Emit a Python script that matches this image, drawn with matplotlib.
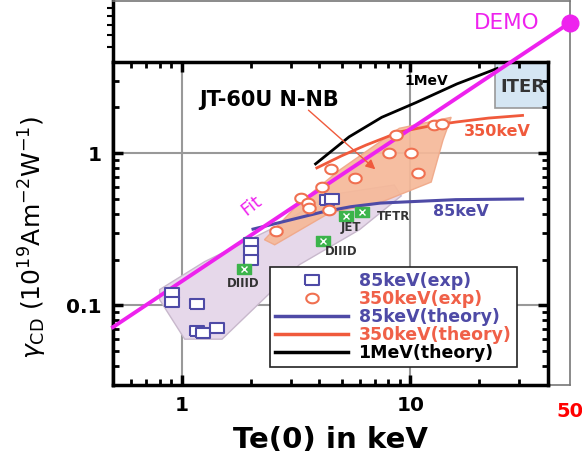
import numpy as np
import matplotlib.pyplot as plt
from matplotlib.lines import Line2D
from matplotlib.patches import Polygon, Rectangle, FancyArrowPatch
from matplotlib.ticker import FixedLocator, NullFormatter

# experimental points, Te(0) [keV] vs gamma_CD [1e19 A/m2/W]
te_85_exp = [0.91, 0.91, 1.16, 1.16, 1.24, 1.43, 2.01, 2.01, 2.01, 4.3, 4.55]
g_85_exp = [0.121, 0.106, 0.1015, 0.068, 0.066, 0.0715, 0.257, 0.226, 0.200, 0.49, 0.50]

te_350_exp = [2.59, 3.33, 3.56, 3.62, 4.09, 4.43, 4.50, 5.75, 8.09, 10.07, 8.66, 10.76, 12.7, 13.8]
g_350_exp = [0.306, 0.506, 0.469, 0.435, 0.600, 0.421, 0.783, 0.690, 0.995, 1.0, 1.31, 0.737, 1.52, 1.55]

# other tokamaks
te_other = [1.865, 4.14, 5.24, 6.15]
g_other = [0.173, 0.263, 0.389, 0.413]
other_names = ['DIIID', 'DIIID', 'JET', 'TFTR']

# theory curves
te_85_th = [2.05, 3.0, 4.1, 5.5, 7.4, 10, 15.8, 31]
g_85_th = [0.317, 0.365, 0.41, 0.445, 0.47, 0.48, 0.495, 0.50]
te_350_th = [3.9, 5.0, 6.4, 9.0, 12.5, 15.8, 22, 31]
g_350_th = [0.80, 0.96, 1.13, 1.38, 1.52, 1.60, 1.70, 1.77]
te_1mev_th = [3.85, 5.4, 7.5, 10.6, 16, 24]
g_1mev_th = [0.85, 1.28, 1.72, 2.15, 2.85, 3.6]

# fit line and DEMO point
fit_te = [0.5, 50]
fit_g = [0.072, 7.2]
demo_te, demo_g = 50, 7.2

# shaded regions
purple_te = [0.80, 1.03, 1.50, 3.27, 5.99, 9.13, 8.51, 4.43, 2.68, 1.26, 0.80]
purple_g = [0.109, 0.060, 0.060, 0.185, 0.314, 0.524, 0.618, 0.532, 0.338, 0.194, 0.127]
orange_te = [2.30, 3.27, 4.90, 8.95, 15.1, 13.9, 12.35, 7.32, 4.43, 2.55]
orange_g = [0.27, 0.471, 0.774, 1.456, 1.72, 1.216, 0.646, 0.471, 0.405, 0.25]

# ITER box corners
iter_te = [23.5, 40]
iter_g = [1.97, 4.0]

blue = '#4e4aa6'
red = '#f05a3c'
magenta = '#ee22ee'
green = '#3cb44b'

rect = [(-1.35, -1), (1.35, -1), (1.35, 1), (-1.35, 1), (-1.35, -1)]
t = np.linspace(0, 2 * np.pi, 40)
ellipse = list(zip(1.3 * np.cos(t), np.sin(t)))

W, H = 582, 461
fig = plt.figure(figsize=(W / 100, H / 100), dpi=100)

# outer frame running up to DEMO
x0, x1 = 113 / W, 570 / W
y0, y1 = 1 - 385 / H, 0.998
ax_out = fig.add_axes([x0, y0, x1 - x0, y1 - y0])
ax_out.set_xscale('log')
ax_out.set_yscale('log')
ax_out.set_xlim(0.5, 50)
ax_out.set_ylim(0.03, 10)
for s in ['top', 'right', 'bottom']:
    ax_out.spines[s].set_color('#777777')
    ax_out.spines[s].set_linewidth(1.2)
ax_out.spines['left'].set_linewidth(2.5)
ax_out.yaxis.set_major_locator(FixedLocator([]))
ax_out.yaxis.set_minor_locator(FixedLocator([5, 6, 7, 8, 9]))
ax_out.yaxis.set_minor_formatter(NullFormatter())
ax_out.tick_params(axis='y', which='minor', direction='out', length=4, width=1.5)
ax_out.xaxis.set_minor_locator(FixedLocator([]))
ax_out.set_xticks([50], ['50'])
ax_out.tick_params(axis='x', length=0, pad=12, labelcolor='red', labelsize=14)
for lab in ax_out.get_xticklabels():
    lab.set_fontweight('bold')

# inner plot box
wfrac = (x1 - x0) * np.log10(40 / 0.5) / np.log10(50 / 0.5)
hfrac = (y1 - y0) * np.log10(4 / 0.03) / np.log10(10 / 0.03)
ax = fig.add_axes([x0, y0, wfrac, hfrac])
ax.set_xscale('log')
ax.set_yscale('log')
ax.set_xlim(0.5, 40)
ax.set_ylim(0.03, 4)
for s in ax.spines.values():
    s.set_linewidth(2.5)
ax.set_xticks([1, 10], ['1', '10'])
ax.set_yticks([0.1, 1], ['0.1', '1'])
ax.xaxis.set_minor_formatter(NullFormatter())
ax.yaxis.set_minor_formatter(NullFormatter())
ax.tick_params(which='both', direction='in', top=True, right=True)
ax.tick_params(which='major', length=7, width=2.5, labelsize=14.5, pad=8)
ax.tick_params(which='minor', length=4, width=2)
for lab in ax.get_xticklabels() + ax.get_yticklabels():
    lab.set_fontweight('bold')

for v in [1, 10]:
    ax.axvline(v, color='#999999', lw=1.5, zorder=0)
for v in [0.1, 1]:
    ax.axhline(v, color='#999999', lw=1.5, zorder=0)

ax.add_patch(Polygon(list(zip(purple_te, purple_g)), closed=True,
                     facecolor='#e6d8ea', edgecolor='#c8b8cc', lw=1, zorder=1))
ax.add_patch(Polygon(list(zip(orange_te, orange_g)), closed=True,
                     facecolor='#f6b999', edgecolor='#f0a888', lw=1, zorder=1, alpha=0.92))
ax.add_patch(Rectangle((iter_te[0], iter_g[0]), iter_te[1] - iter_te[0], iter_g[1] - iter_g[0],
                       facecolor='#d5e6f3', edgecolor='#999999', lw=1.2, zorder=1))
ax.text(31.1, 2.7, 'ITER', fontsize=13, fontweight='bold', color='#333333',
        ha='center', va='center', zorder=2)

ax.plot(te_85_th, g_85_th, color=blue, lw=2.2, zorder=3)
ax.plot(te_350_th, g_350_th, color=red, lw=2, zorder=3)
ax.plot(te_1mev_th, g_1mev_th, color='black', lw=2, zorder=3)

ax.plot(fit_te, fit_g, color=magenta, lw=2.8, zorder=4, clip_on=False)
ax.plot([demo_te], [demo_g], 'o', color=magenta, ms=12, zorder=6, clip_on=False)

ax.plot(te_85_exp, g_85_exp, ls='none', marker=rect, ms=10, mec=blue, mfc='white', mew=1.5, zorder=5)
ax.plot(te_350_exp, g_350_exp, ls='none', marker=ellipse, ms=9, mec='#f07050', mfc='white', mew=1.5, zorder=5)
ax.plot(te_other, g_other, ls='none', marker=rect, ms=10, mec=green, mfc=green, zorder=5)
ax.plot(te_other, g_other, ls='none', marker='x', ms=5, mec='white', mew=1, zorder=5)

# text labels
label_pos = [(1.865, 0.139), (5.0, 0.225), (5.52, 0.324), (8.43, 0.382)]
for name, (xt, yt) in zip(other_names, label_pos):
    ax.text(xt, yt, name, fontsize=8.5, fontweight='bold', color='#333333', ha='center', va='center', zorder=6)

ax.text(11.75, 3.0, '1MeV', fontsize=10, fontweight='bold', color='black', ha='center', va='center', zorder=6)
ax.text(24, 1.39, '350keV', fontsize=11.5, fontweight='bold', color=red, ha='center', va='center', zorder=6)
ax.text(16.7, 0.411, '85keV', fontsize=11.5, fontweight='bold', color=blue, ha='center', va='center', zorder=6)
ax.text(2.4, 2.25, 'JT-60U N-NB', fontsize=15, fontweight='bold', color='black', ha='center', va='center', zorder=6)
ax.text(2.02, 0.45, 'Fit', fontsize=13, color=magenta, rotation=38, ha='center', va='center', zorder=6)
ax.text(26.5, 7.18, 'DEMO', fontsize=15.5, color=magenta, ha='center', va='center', clip_on=False, zorder=6)

ax.add_patch(FancyArrowPatch((3.51, 1.97), (7.18, 0.762), arrowstyle='-|>', mutation_scale=14,
                             color=red, lw=1, zorder=6))

handles = [
    Line2D([], [], ls='none', marker=rect, ms=10, mec=blue, mfc='white', mew=1.5),
    Line2D([], [], ls='none', marker=ellipse, ms=9, mec='#f07050', mfc='white', mew=1.5),
    Line2D([], [], color=blue, lw=2.5),
    Line2D([], [], color=red, lw=2.5),
    Line2D([], [], color='black', lw=2.5),
]
labels = ['85keV(exp)', '350keV(exp)', '85keV(theory)', '350keV(theory)', '1MeV(theory)']
leg = ax.legend(handles, labels, loc='upper left', bbox_to_anchor=(270 / W, 1 - 267 / H),
                bbox_transform=fig.transFigure, borderaxespad=0, fancybox=False,
                framealpha=1, edgecolor='#222222', prop={'size': 12.5, 'weight': 'bold'},
                labelspacing=0.0, handlelength=4.2, handletextpad=0.6, borderpad=0.3)
leg.get_frame().set_linewidth(1.2)
leg.set_zorder(10)
for txt, c in zip(leg.get_texts(), [blue, '#f06048', blue, '#f06048', 'black']):
    txt.set_color(c)

fig.text(330 / W, 1 - 440 / H, 'Te(0) in keV', fontsize=21, fontweight='bold', ha='center', va='center')
fig.text(33 / W, 1 - 237 / H, r'$\gamma_{\mathregular{CD}}$ (10$^{19}$Am$^{-2}$W$^{-1}$)',
         fontsize=18, rotation=90, ha='center', va='center')

fig.savefig('out.png', dpi=100)
